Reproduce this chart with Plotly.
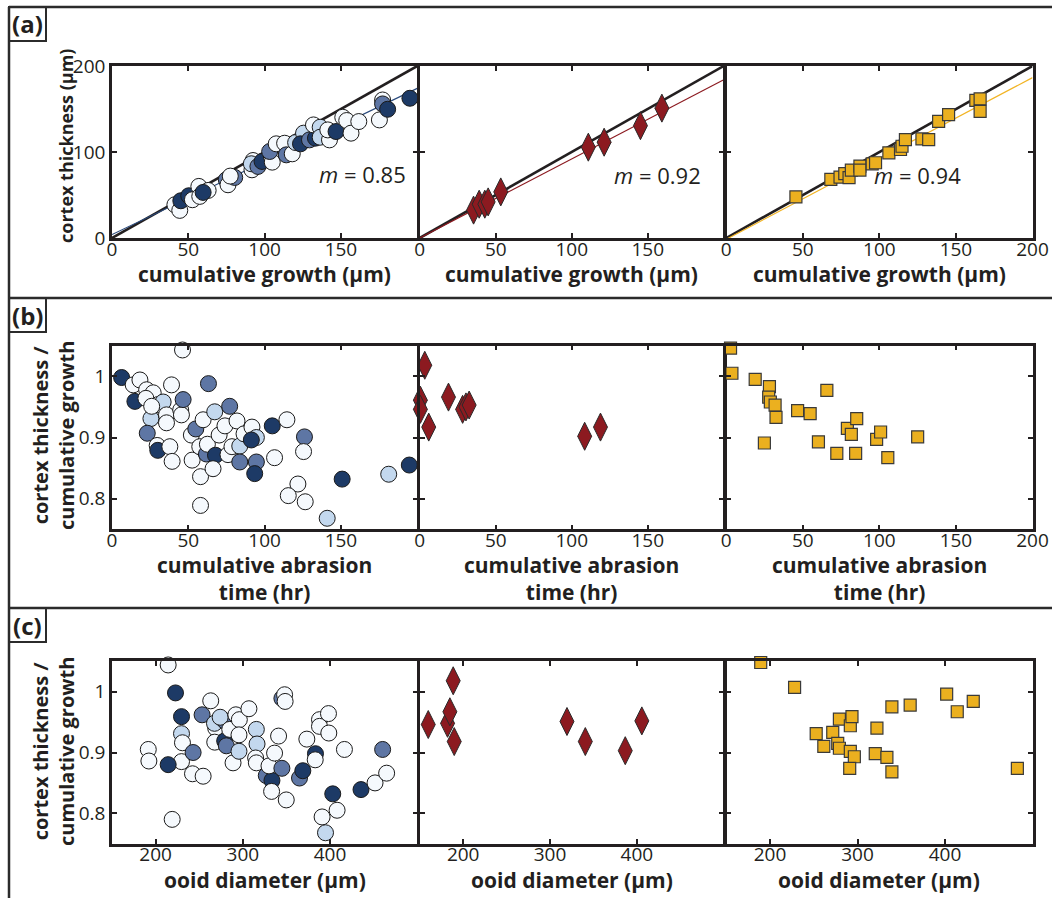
import plotly.graph_objects as go

# ---------------- DATA ----------------
# Panel (a): cortex thickness vs cumulative growth
a1_x = [41.2, 44.4, 45.1, 50.3, 52.7, 56.9, 57.5, 63.0, 59.7, 74.9, 76.0, 80.4, 77.5, 92.4, 91.7, 91.3,
        95.6, 98.3, 104.4, 105.0, 103.3, 107.6, 113.1, 114.2, 118.1, 120.3, 125.5, 123.5, 129.4, 133.3,
        132.0, 136.4, 136.4, 142.5, 141.4, 146.8, 151.2, 153.8, 156.6, 161.7, 177.3, 177.3, 175.2, 180.6, 195.2]
a1_y = [38.7, 32.1, 43.3, 49.1, 44.5, 60.0, 48.4, 55.3, 53.0, 67.7, 61.9, 70.4, 72.0, 90.1, 79.3, 86.3,
        83.2, 89.0, 94.8, 88.2, 100.6, 109.5, 110.2, 96.7, 97.9, 111.0, 121.9, 109.5, 114.1, 116.1,
        131.5, 128.8, 117.2, 114.1, 125.7, 123.8, 140.4, 136.6, 121.9, 135.4, 160.5, 155.9, 137.3, 149.7, 162.5]
a1_g = ["W", "W", "D", "D", "W", "W", "W", "W", "D", "M", "W", "M", "W", "W", "W", "L",
        "M", "D", "W", "W", "M", "W", "W", "M", "W", "L", "L", "D", "M", "D",
        "W", "L", "L", "W", "W", "D", "W", "W", "W", "W", "W", "M", "W", "D", "D"]

a2_x = [35.4, 39.1, 42.8, 45.0, 53.3, 110.9, 121.3, 145.2, 159.3]
a2_y = [32.4, 39.3, 39.3, 42.0, 53.6, 105.6, 111.4, 130.6, 151.0]

a3_x = [45.5, 68.3, 74.3, 77.4, 80.2, 81.7, 87.3, 87.3, 95.3, 97.5, 106.2, 113.8, 114.8, 117.0,
        127.8, 132.2, 138.7, 145.2, 163.0, 165.8, 165.8]
a3_y = [47.8, 68.2, 70.9, 74.8, 70.1, 79.0, 83.6, 79.0, 86.3, 87.5, 99.0, 102.9, 106.7, 114.5,
        115.2, 114.5, 135.6, 143.4, 160.0, 161.8, 147.2]

fit_slopes = [0.85, 0.92, 0.94]
fit_intercepts = [4.0, 0.0, -1.5]
fit_labels = ["0.85", "0.92", "0.94"]

# Panel (b): ratio vs cumulative abrasion time
b1_x = [6.3, 13.9, 18.3, 15.0, 22.7, 27.0, 22.2, 30.3, 33.5, 25.5, 26.0, 23.1, 29.6, 30.0, 35.7, 35.7,
        37.9, 39.4, 39.0, 45.0, 45.5, 46.2, 46.6, 52.5, 52.0, 54.9, 59.7, 57.5, 58.0, 58.0, 63.2,
        61.9, 62.5, 67.8, 66.2, 67.3, 70.2, 74.0, 76.0, 77.1, 78.6, 81.9, 83.7, 83.7, 86.5, 91.7,
        94.6, 91.3, 94.6, 93.5, 105.0, 106.5, 114.6, 126.1, 125.5, 121.8, 115.5, 126.6, 141.0,
        150.8, 181.3, 194.8]
b1_y = [0.998, 0.986, 0.994, 0.959, 0.978, 0.973, 0.964, 0.954, 0.958, 0.931, 0.951, 0.907, 0.887, 0.879,
        0.937, 0.924, 0.885, 0.861, 0.986, 0.945, 0.937, 1.043, 0.962, 0.863, 0.904, 0.914, 0.929,
        0.885, 0.836, 0.789, 0.988, 0.873, 0.889, 0.871, 0.849, 0.942, 0.904, 0.919, 0.872, 0.951,
        0.885, 0.927, 0.886, 0.860, 0.906, 0.917, 0.900, 0.896, 0.860, 0.841, 0.919, 0.867, 0.929,
        0.901, 0.877, 0.824, 0.805, 0.795, 0.768, 0.832, 0.840, 0.855]
b1_g = ["D", "W", "W", "D", "W", "W", "W", "W", "L", "L", "W", "M", "W", "D", "W", "W",
        "W", "W", "W", "W", "W", "W", "M", "W", "W", "M", "W", "W", "W", "W", "M",
        "M", "W", "D", "W", "L", "W", "W", "W", "M", "W", "W", "L", "M", "W", "W",
        "L", "D", "M", "D", "D", "W", "W", "M", "W", "W", "W", "W", "L",
        "D", "L", "D"]

b2_x = [3.3, 0.4, 0.4, 5.9, 18.9, 28.2, 30.4, 32.5, 108.5, 118.9]
b2_y = [1.018, 0.961, 0.946, 0.917, 0.966, 0.946, 0.950, 0.953, 0.902, 0.917]

b3_x = [2.8, 3.7, 18.9, 28.2, 27.7, 28.8, 31.9, 32.5, 24.9, 46.6, 54.8, 65.7, 60.2, 72.2, 79.1,
        81.7, 85.2, 84.5, 98.2, 100.8, 105.5, 125.0]
b3_y = [1.046, 1.005, 0.995, 0.983, 0.966, 0.958, 0.953, 0.933, 0.891, 0.944, 0.939, 0.977, 0.893,
        0.874, 0.915, 0.905, 0.931, 0.874, 0.897, 0.909, 0.867, 0.901]

# Panel (c): ratio vs ooid diameter
c1_x = [214.4, 222.8, 229.7, 229.7, 230.8, 229.7, 214.4, 191.6, 192.3, 219.0, 243.0, 242.3, 254.5,
        253.3, 263.2, 268.9, 267.5, 267.8, 279.2, 274.0, 279.2, 281.1, 285.0, 288.8, 292.0, 296.0,
        295.6, 295.6, 307.0, 315.5, 316.3, 314.7, 315.5, 326.9, 333.4, 330.0, 333.0, 336.4, 341.0,
        344.8, 344.8, 347.9, 348.5, 349.8, 373.4, 365.0, 368.8, 387.9, 387.9, 398.2, 398.6, 383.3,
        383.0, 403.1, 408.1, 390.9, 394.8, 416.5, 435.5, 451.6, 464.9, 460.3]
c1_y = [1.044, 0.998, 0.959, 0.931, 0.916, 0.885, 0.880, 0.905, 0.886, 0.790, 0.900, 0.865, 0.861,
        0.962, 0.985, 0.940, 0.948, 0.917, 0.952, 0.958, 0.919, 0.911, 0.938, 0.883, 0.962, 0.954,
        0.929, 0.902, 0.972, 0.938, 0.914, 0.891, 0.883, 0.862, 0.854, 0.878, 0.836, 0.899, 0.927,
        0.874, 0.989, 0.995, 0.984, 0.822, 0.922, 0.858, 0.870, 0.954, 0.943, 0.964, 0.932, 0.898,
        0.888, 0.832, 0.805, 0.794, 0.768, 0.905, 0.839, 0.850, 0.866, 0.905]
c1_g = ["W", "D", "D", "L", "W", "W", "D", "W", "W", "W", "M", "W", "W",
        "M", "W", "W", "L", "W", "M", "L", "D", "M", "W", "W", "W", "W",
        "W", "L", "W", "L", "L", "W", "W", "M", "D", "W", "W", "W", "W",
        "M", "M", "W", "W", "W", "W", "M", "D", "W", "W", "W", "W", "D",
        "W", "D", "W", "W", "L", "W", "D", "W", "W", "M"]

c2_x = [159.8, 182.0, 184.7, 188.5, 189.7, 319.5, 340.6, 386.6, 405.7]
c2_y = [0.946, 0.948, 0.967, 1.018, 0.918, 0.951, 0.918, 0.903, 0.952]

c3_x = [189.4, 228.1, 252.8, 261.5, 271.7, 277.4, 279.3, 279.3, 291.8, 293.7, 291.8, 296.4, 291.1,
        322.2, 320.3, 333.6, 339.3, 339.3, 360.2, 401.9, 414.0, 432.3, 482.7]
c3_y = [1.048, 1.007, 0.931, 0.910, 0.933, 0.915, 0.955, 0.907, 0.944, 0.959, 0.902, 0.893, 0.874,
        0.940, 0.898, 0.892, 0.975, 0.868, 0.978, 0.996, 0.967, 0.984, 0.874]

# Tick labels
growth_ticks = [0, 50, 100, 150, 200]
thick_ticks = [0, 100, 200]
ratio_ticks = [0.8, 0.9, 1.0]
ratio_ticktext = ["0.8", "0.9", "1"]
diam_ticks = [200, 300, 400]

# ---------------- STYLE ----------------
W, H = 1052, 898
FONT = "Open Sans"
TXT = "#231f20"
shade = {"W": "#f5f9fd", "L": "#c3d8ee", "M": "#5e76a4", "D": "#1d3a66"}
RED = "#8c1a20"
GOLD = "#ebb01f"
BLUE_LINE = "#2a4a7c"
GOLD_LINE = "#f2b424"
LW = 2.5

def fx(px):
    return px / W

def fy(py):
    return 1 - py / H

# shared borders: neighbouring frames overlap exactly (lines are drawn outside the domain)
xcols = [(112, 418.5 - LW / 2), (418.5 + LW / 2, 725 - LW / 2), (725 + LW / 2, 1032.5)]
yrows = [(66, 238), (345.7, 529.3), (661.3, 843.7)]

fig = go.Figure()

axis_common = dict(showline=True, linecolor="#231f20", linewidth=LW, mirror="allticks",
                   ticks="inside", ticklen=5, tickwidth=1.6, tickcolor="#231f20",
                   showgrid=False, zeroline=False, automargin=False,
                   tickfont=dict(family=FONT, size=19, color=TXT))

n = 0
layout_axes = {}
for r in range(3):
    for c in range(3):
        n += 1
        xa = "xaxis" if n == 1 else f"xaxis{n}"
        ya = "yaxis" if n == 1 else f"yaxis{n}"
        xd = dict(axis_common, domain=[fx(xcols[c][0]), fx(xcols[c][1])], anchor=f"y{n if n > 1 else ''}",
                  ticklabelstandoff=-8)
        yd = dict(axis_common, domain=[fy(yrows[r][1]), fy(yrows[r][0])], anchor=f"x{n if n > 1 else ''}")
        if r < 2:
            xd.update(range=[0, 200], tickvals=growth_ticks,
                      ticktext=[str(t) if (t != 200 or c == 2) else "" for t in growth_ticks])
        else:
            xd.update(range=[150, 500], tickvals=diam_ticks, ticktext=[str(t) for t in diam_ticks])
        if r == 0:
            yd.update(range=[0, 200], tickvals=thick_ticks, ticktext=[str(t) for t in thick_ticks])
        else:
            yd.update(range=[0.75, 1.05], tickvals=ratio_ticks, ticktext=ratio_ticktext)
        yd["showticklabels"] = (c == 0)
        layout_axes[xa] = xd
        layout_axes[ya] = yd

def ax(n):
    return ("x" if n == 1 else f"x{n}"), ("y" if n == 1 else f"y{n}")

def add_lines(n, slope, intercept, color):
    xr, yr = ax(n)
    x0, x1 = layout_axes["xaxis" if n == 1 else f"xaxis{n}"]["range"]
    fig.add_trace(go.Scatter(x=[x0, x1], y=[x0, x1], mode="lines", xaxis=xr, yaxis=yr,
                             line=dict(color="#231f20", width=2.6), showlegend=False, hoverinfo="skip"))
    fig.add_trace(go.Scatter(x=[x0, x1], y=[slope * x0 + intercept, slope * x1 + intercept],
                             mode="lines", xaxis=xr, yaxis=yr,
                             line=dict(color=color, width=1.2), showlegend=False, hoverinfo="skip"))

def circles(n, xs, ys, gs):
    xr, yr = ax(n)
    fig.add_trace(go.Scatter(x=xs, y=ys, mode="markers", xaxis=xr, yaxis=yr, cliponaxis=False,
                             marker=dict(symbol="circle", size=16, color=[shade[g] for g in gs],
                                         line=dict(color="#1a1a1a", width=1)),
                             showlegend=False))

def diamonds(n, xs, ys):
    xr, yr = ax(n)
    fig.add_trace(go.Scatter(x=xs, y=ys, mode="markers", xaxis=xr, yaxis=yr, cliponaxis=False,
                             marker=dict(symbol="diamond-tall", size=20, color=RED,
                                         line=dict(color="#2a2a2a", width=1)),
                             showlegend=False))

def squares(n, xs, ys):
    xr, yr = ax(n)
    fig.add_trace(go.Scatter(x=xs, y=ys, mode="markers", xaxis=xr, yaxis=yr, cliponaxis=False,
                             marker=dict(symbol="square", size=12, color=GOLD,
                                         line=dict(color="#3a3a3a", width=1.2)),
                             showlegend=False))

add_lines(1, fit_slopes[0], fit_intercepts[0], BLUE_LINE)
add_lines(2, fit_slopes[1], fit_intercepts[1], RED)
add_lines(3, fit_slopes[2], fit_intercepts[2], GOLD_LINE)
circles(1, a1_x, a1_y, a1_g)
diamonds(2, a2_x, a2_y)
squares(3, a3_x, a3_y)
circles(4, b1_x, b1_y, b1_g)
diamonds(5, b2_x, b2_y)
squares(6, b3_x, b3_y)
circles(7, c1_x, c1_y, c1_g)
diamonds(8, c2_x, c2_y)
squares(9, c3_x, c3_y)

annotations = []
def ann(px, py, text, size=21, bold=True, angle=0, yanchor="middle"):
    annotations.append(dict(x=fx(px), y=fy(py), xref="paper", yref="paper", text=f"<b>{text}</b>" if bold else text,
                            showarrow=False, textangle=angle, xanchor="center", yanchor=yanchor,
                            font=dict(family=FONT, size=size, color=TXT)))

centers = [(xc[0] + xc[1]) / 2 for xc in xcols]
for cx in centers:
    ann(cx, 258, "cumulative growth (μm)", yanchor="top")
    ann(cx, 549, "cumulative abrasion<br>time (hr)", yanchor="top")
    ann(cx, 864, "ooid diameter (μm)", yanchor="top")
ann(66, 146, "cortex thickness (μm)", size=18, angle=-90)
ann(53, 436, "cortex thickness /<br>cumulative growth", size=20, angle=-90)
ann(53, 752, "cortex thickness /<br>cumulative growth", size=20, angle=-90)

m_pos = [(362, 157), (657, 158), (963, 158)]
for (px, py), lab in zip(m_pos, fit_labels):
    annotations.append(dict(x=fx(px), y=fy(py), xref="paper", yref="paper",
                            text=f"<i>m</i> = {lab}", showarrow=False,
                            font=dict(family=FONT, size=22, color=TXT)))

panel_tops = [7, 298, 608]
for lab, top in zip(["(a)", "(b)", "(c)"], panel_tops):
    ann(27.5, top + 17, lab, size=24)

shapes = []
LC = "#2b2b2b"
# panel frames (kept inside the paper)
shapes.append(dict(type="line", xref="paper", yref="paper", x0=fx(9), x1=fx(9), y0=fy(7), y1=0,
                   line=dict(color=LC, width=2.5)))
for top in panel_tops:
    shapes.append(dict(type="line", xref="paper", yref="paper", x0=fx(9), x1=1, y0=fy(top), y1=fy(top),
                       line=dict(color=LC, width=2.5)))
    shapes.append(dict(type="rect", xref="paper", yref="paper", x0=fx(9), x1=fx(46), y0=fy(top + 34), y1=fy(top),
                       line=dict(color=LC, width=2)))

fig.update_layout(width=W, height=H, margin=dict(l=0, r=0, t=0, b=0, autoexpand=False),
                  paper_bgcolor="white", plot_bgcolor="white",
                  annotations=annotations, shapes=shapes, **layout_axes)

fig.write_html("out.html")
